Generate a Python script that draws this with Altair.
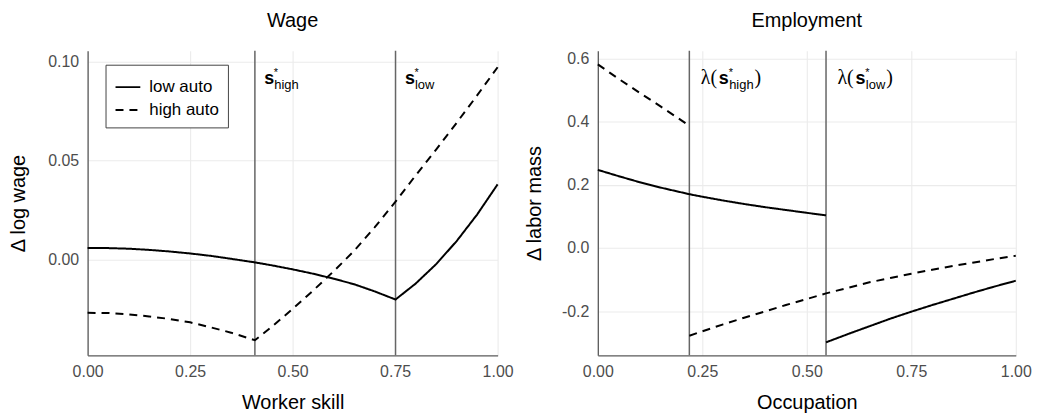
import altair as alt
import pandas as pd

# ---------------- data ----------------
series_names = ["low auto", "high auto"]

# Wage panel (x = worker skill, y = delta log wage)
wage_low_x = [0.00, 0.05, 0.10, 0.15, 0.20, 0.25, 0.30, 0.35, 0.408, 0.45, 0.50,
              0.55, 0.60, 0.65, 0.70, 0.751, 0.80, 0.85, 0.90, 0.95, 1.00]
wage_low_y = [0.0059, 0.0059, 0.0056, 0.0050, 0.0042, 0.0032, 0.0020, 0.0005, -0.0013,
              -0.0028, -0.0048, -0.0070, -0.0095, -0.0123, -0.0159, -0.0200,
              -0.0120, -0.0022, 0.0094, 0.0228, 0.0380]
wage_high_x = [0.00, 0.05, 0.10, 0.15, 0.20, 0.25, 0.30, 0.35, 0.408, 0.45, 0.50,
               0.55, 0.60, 0.65, 0.70, 0.751, 0.80, 0.85, 0.90, 0.95, 1.00]
wage_high_y = [-0.0267, -0.0268, -0.0275, -0.0285, -0.0298, -0.0315, -0.0340, -0.0367,
               -0.0405, -0.0336, -0.0247, -0.0155, -0.0058, 0.0045, 0.0163, 0.0293,
               0.0425, 0.0555, 0.0690, 0.0828, 0.0970]

# Employment panel (x = occupation, y = delta labor mass), two segments each
emp_low_x_a = [0.00, 0.05, 0.10, 0.15, 0.219, 0.25, 0.30, 0.35, 0.40, 0.45, 0.50, 0.546]
emp_low_y_a = [0.247, 0.227, 0.208, 0.191, 0.170, 0.162, 0.150, 0.139, 0.129, 0.120, 0.111, 0.103]
emp_low_x_b = [0.546, 0.60, 0.65, 0.70, 0.75, 0.80, 0.85, 0.90, 0.95, 1.00]
emp_low_y_b = [-0.299, -0.272, -0.248, -0.224, -0.202, -0.181, -0.161, -0.141, -0.122, -0.104]
emp_high_x_a = [0.00, 0.05, 0.10, 0.15, 0.219]
emp_high_y_a = [0.581, 0.535, 0.491, 0.448, 0.387]
emp_high_x_b = [0.219, 0.25, 0.30, 0.35, 0.40, 0.45, 0.50, 0.546, 0.60, 0.65, 0.70,
                0.75, 0.80, 0.85, 0.90, 0.95, 1.00]
emp_high_y_b = [-0.278, -0.264, -0.242, -0.221, -0.201, -0.181, -0.162, -0.144, -0.126,
                -0.109, -0.095, -0.082, -0.069, -0.057, -0.046, -0.035, -0.025]

# thresholds
wage_thresholds = [0.408, 0.751]
emp_thresholds = [0.219, 0.546]
threshold_subs = ["high", "low"]
label_main = ["s", "s"]
label_star = ["*", "*"]
lambda_open = ["λ(", "λ("]
lambda_close = [")", ")"]

# axis ticks
x_ticks = [0.0, 0.25, 0.5, 0.75, 1.0]
wage_ticks = [0.0, 0.05, 0.10]
emp_ticks = [-0.2, 0.0, 0.2, 0.4, 0.6]

# ---------------- frames ----------------
def seg(xs, ys, name, sid):
    return pd.DataFrame({"x": xs, "y": ys, "series": name, "seg": sid})

wage_df = pd.concat([
    seg(wage_low_x, wage_low_y, series_names[0], "l"),
    seg(wage_high_x, wage_high_y, series_names[1], "h"),
], ignore_index=True)

emp_df = pd.concat([
    seg(emp_low_x_a, emp_low_y_a, series_names[0], "la"),
    seg(emp_low_x_b, emp_low_y_b, series_names[0], "lb"),
    seg(emp_high_x_a, emp_high_y_a, series_names[1], "ha"),
    seg(emp_high_x_b, emp_high_y_b, series_names[1], "hb"),
], ignore_index=True)

wage_thr_df = pd.DataFrame({"x": wage_thresholds, "sub": threshold_subs,
                            "main": label_main, "star": label_star})
emp_thr_df = pd.DataFrame({"x": emp_thresholds, "sub": threshold_subs,
                           "main": label_main, "star": label_star,
                           "open": lambda_open, "close": lambda_close})

FONT = "Liberation Sans"
SERIF = "Liberation Serif"
H = 306
W_L = 412
W_R = 420

dash_scale = alt.Scale(domain=series_names, range=[[1, 0], [8, 6]])
x_scale = alt.Scale(domain=[0, 1], nice=False, zero=False)


def x_axis(title):
    return alt.X("x:Q", scale=x_scale, title=title,
                 axis=alt.Axis(values=x_ticks, format=".2f", labelPadding=8,
                               titlePadding=13.5, labelFlush=False))


def txt(df, field, dx, y, size, font=FONT, bold=False):
    kw = dict(align="left", baseline="alphabetic", font=font, fontSize=size,
              dx=dx, color="black")
    if bold:
        kw["fontWeight"] = "bold"
    return alt.Chart(df).mark_text(**kw).encode(
        x=alt.X("x:Q", scale=x_scale), y=alt.value(y), text=f"{field}:N")


# ---------------- wage panel ----------------
wage_y = alt.Y("y:Q", title="Δ log wage",
               scale=alt.Scale(domain=[-0.0481, 0.1053], nice=False, zero=False),
               axis=alt.Axis(values=wage_ticks, format=".2f", labelPadding=9,
                             titlePadding=19))

wage_lines = alt.Chart(wage_df).mark_line(color="black", strokeWidth=2).encode(
    x=x_axis("Worker skill"),
    y=wage_y,
    strokeDash=alt.StrokeDash(
        "series:N", scale=dash_scale, sort=series_names,
        legend=alt.Legend(title=None, orient="none", legendX=18, legendY=14,
                          direction="vertical", symbolType="stroke", symbolSize=620,
                          symbolStrokeWidth=1.8, symbolStrokeColor="black",
                          labelFont=FONT, labelFontSize=17, labelColor="black",
                          labelOffset=8, strokeColor="#444444", fillColor="white",
                          padding=9, rowPadding=1, cornerRadius=0)),
    detail="seg:N",
)

wage_rules = alt.Chart(wage_thr_df).mark_rule(color="#666666", strokeWidth=1.5).encode(
    x=alt.X("x:Q", scale=x_scale)
)

wage_panel = alt.layer(
    wage_rules, wage_lines,
    txt(wage_thr_df, "main", 9.5, 33.3, 18, bold=True),
    txt(wage_thr_df, "star", 19, 25.5, 11),
    txt(wage_thr_df, "sub", 19.5, 38.5, 13),
).properties(
    width=W_L, height=H,
    title=alt.TitleParams("Wage", font=FONT, fontSize=20, fontWeight="normal",
                          color="black", anchor="middle", offset=19, frame="group"),
)

# ---------------- employment panel ----------------
emp_y = alt.Y("y:Q", title="Δ labor mass",
              scale=alt.Scale(domain=[-0.340, 0.624], nice=False, zero=False),
              axis=alt.Axis(values=emp_ticks,
                            labelExpr="replace(format(datum.value, '.1f'), '\u2212', '-')",
                            labelPadding=9, titlePadding=17.5))

emp_lines = alt.Chart(emp_df).mark_line(color="black", strokeWidth=2).encode(
    x=x_axis("Occupation"),
    y=emp_y,
    strokeDash=alt.StrokeDash("series:N", scale=dash_scale, sort=series_names, legend=None),
    detail="seg:N",
)

emp_rules = alt.Chart(emp_thr_df).mark_rule(color="#666666", strokeWidth=1.5).encode(
    x=alt.X("x:Q", scale=x_scale)
)

emp_thr_high = emp_thr_df[emp_thr_df["sub"] == "high"]
emp_thr_low = emp_thr_df[emp_thr_df["sub"] == "low"]

emp_panel = alt.layer(
    emp_rules, emp_lines,
    txt(emp_thr_df, "open", 11.5, 33.3, 20, font=SERIF),
    txt(emp_thr_df, "main", 29.5, 33.3, 18, bold=True),
    txt(emp_thr_df, "star", 39.5, 25.5, 11),
    txt(emp_thr_df, "sub", 40, 38.5, 13),
    txt(emp_thr_high, "close", 65.5, 33.3, 20, font=SERIF),
    txt(emp_thr_low, "close", 60.5, 33.3, 20, font=SERIF),
).properties(
    width=W_R, height=H,
    title=alt.TitleParams("Employment", font=FONT, fontSize=20, fontWeight="normal",
                          color="black", anchor="middle", offset=19, frame="group"),
)

chart = alt.hconcat(wage_panel, emp_panel, spacing=100.7, bounds="flush").resolve_scale(
    strokeDash="independent", x="independent", y="independent"
).resolve_legend(strokeDash="independent").properties(
    padding={"left": 0, "top": 2, "right": 0, "bottom": 0},
    background="white",
).configure_view(stroke=None).configure_axis(
    labelFont=FONT, labelFontSize=16, labelColor="#4d4d4d",
    titleFont=FONT, titleFontSize=20, titleColor="black", titleFontWeight="normal",
    domainColor="#5a5a5a", domainWidth=1.3, ticks=False, tickSize=0,
    gridColor="#ebebeb", gridWidth=1.1,
)

chart.save("out.html", embed_options={"renderer": "svg", "actions": False})
